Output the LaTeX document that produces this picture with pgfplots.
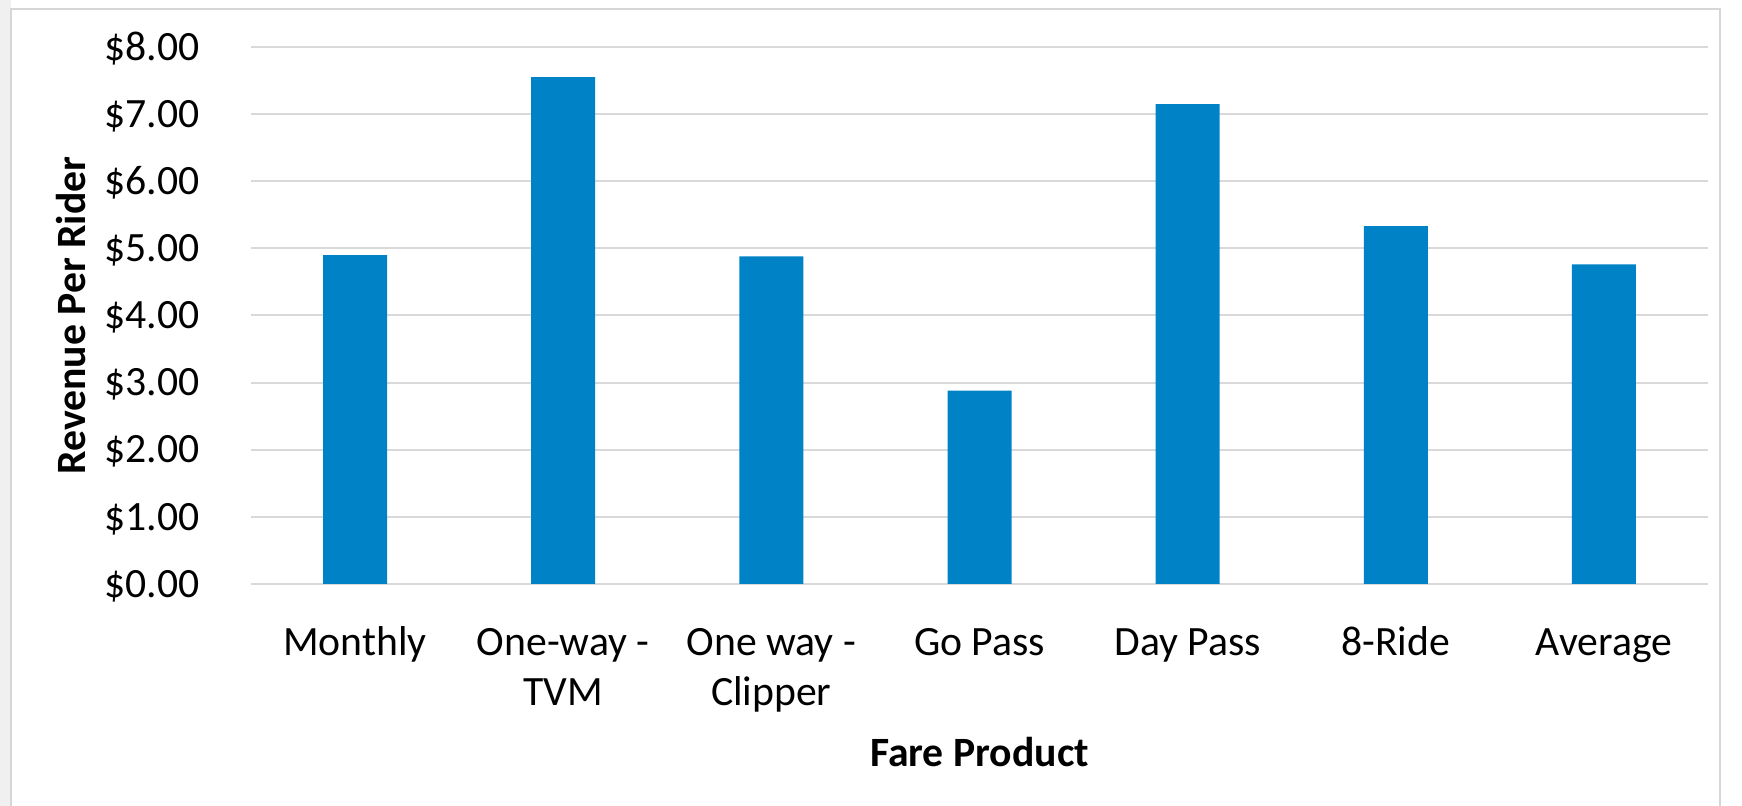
\documentclass[border=0pt]{standalone}
\usepackage{pgfplots}
\pgfplotsset{compat=1.18}
\usepackage{fontspec}
\setmainfont{Carlito}
\definecolor{barblue}{RGB}{0,130,198}
\definecolor{gridgray}{RGB}{217,217,217}
\definecolor{framegray}{RGB}{214,214,214}
\begin{document}
\begin{tikzpicture}
\useasboundingbox (0,0) rectangle (871pt,403pt);
\fill[gray!12] (0,0) rectangle (5.5pt,403pt);
\draw[framegray, line width=1pt] (5.5pt,-2pt) -- (5.5pt,398.5pt) -- (860pt,398.5pt) -- (860pt,-2pt);
\begin{axis}[
  at={(125.5pt,111pt)}, anchor=south west,
  scale only axis, width=728.5pt, height=268.5pt,
  xmin=-0.5, xmax=6.5, ymin=0, ymax=8,
  xtick={0,1,2,3,4,5,6},
  xticklabels={Monthly,{One-way -\\TVM},{One way -\\Clipper},Go Pass,Day Pass,8-Ride,Average},
  ytick={0,1,2,3,4,5,6,7,8},
  /pgf/number format/assume math mode=true,
  yticklabel={\$\pgfmathprintnumber[fixed,fixed zerofill,precision=2]{\tick}},
  typeset ticklabels with strut,
  ticklabel style={font=\fontsize{20.85}{25}\selectfont, inner sep=0pt},
  xticklabel style={align=center, anchor=north, yshift=-18pt},
  yticklabel style={anchor=base east, xshift=-25.5pt, yshift=-6.6pt},
  major tick length=0pt,
  axis line style={draw=none},
  ymajorgrids, grid style={gridgray, line width=1pt},
  xlabel={Fare Product}, ylabel={Revenue Per Rider},
  label style={font=\fontsize{20.85}{25}\selectfont\bfseries},
  xlabel style={at={(axis description cs:0.5,-0.34078)}, anchor=base, inner sep=0pt},
  ylabel style={at={(axis description cs:-0.11325,0.5)}, anchor=base, rotate=0, inner sep=0pt},
  clip=false,
]
\addplot[ybar, bar width=32pt, fill=barblue, draw=none] coordinates {
  (0,4.90) (1,7.55) (2,4.88) (3,2.88) (4,7.15) (5,5.33) (6,4.76)
};
\end{axis}
\end{tikzpicture}
\end{document}
